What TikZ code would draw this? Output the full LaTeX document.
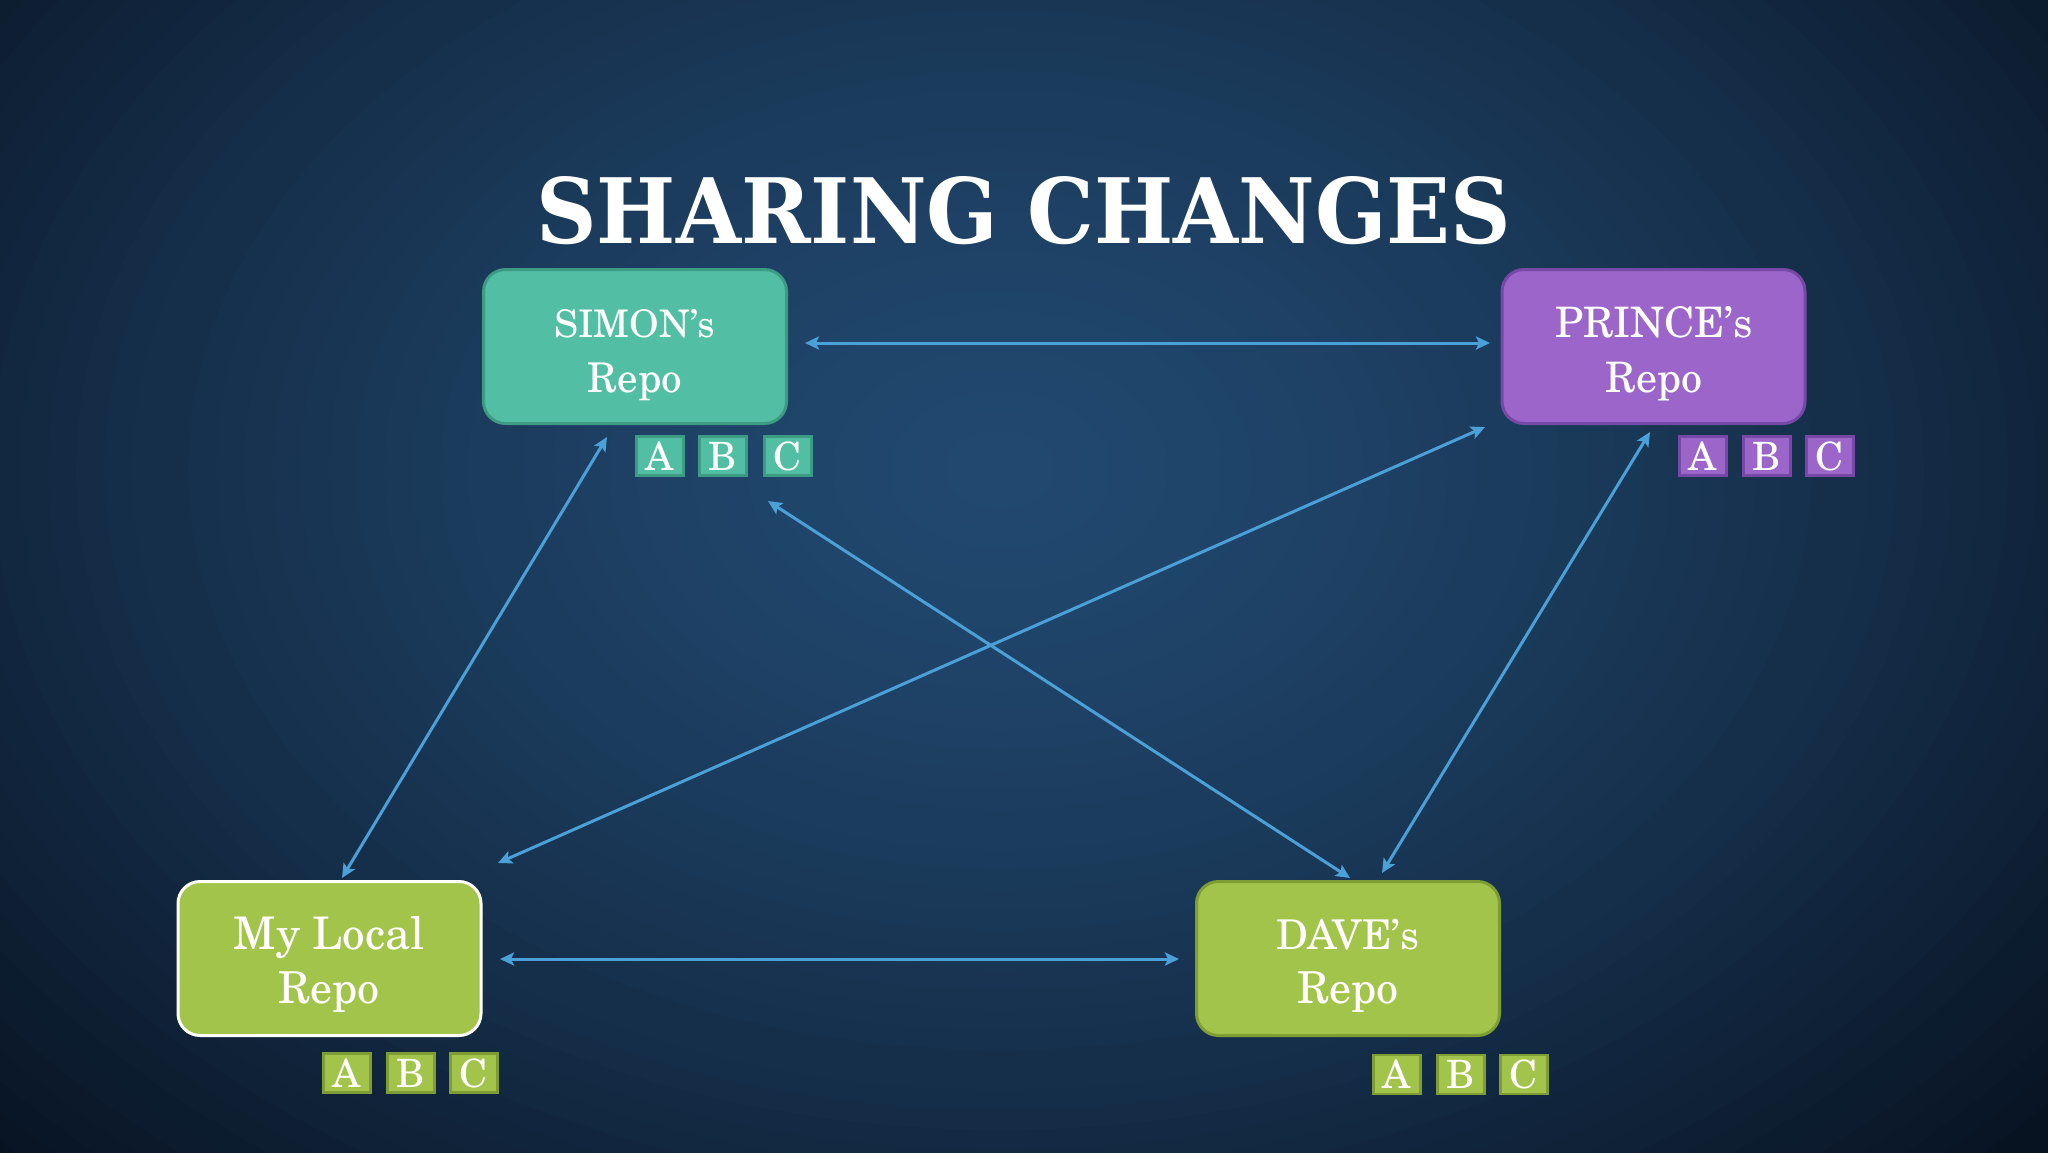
\documentclass[tikz,border=0pt]{standalone}
\usepackage{fontspec}
\usepackage{graphicx}
\setmainfont{TeX Gyre Schola}
\newfontfamily\titlefont{DejaVu Serif}
\usetikzlibrary{arrows.meta}
\definecolor{bgC}{HTML}{21486F}
\definecolor{bgE}{HTML}{081322}
\definecolor{arrowc}{HTML}{4BA0D8}
\definecolor{tealF}{HTML}{52BFA4}
\definecolor{tealB}{HTML}{3D9A83}
\definecolor{purpF}{HTML}{9B65C9}
\definecolor{purpB}{HTML}{7649A6}
\definecolor{grnF}{HTML}{A2C44A}
\definecolor{grnB}{HTML}{7E9E35}
\tikzset{
  repobox/.style={rounded corners=22pt, line width=3pt, minimum width=303pt, minimum height=154pt, inner sep=0pt},
  letterbox/.style={line width=2.5pt, minimum width=47pt, minimum height=39pt, inner sep=0pt, text height=28pt, text depth=0pt, text=white, font=\fontsize{39}{39}\selectfont},
  lbl/.style={text=white, inner sep=0pt, anchor=base},
  conn/.style={draw=arrowc, line width=3pt, {Stealth[length=14pt,width=13pt,inset=3pt]}-{Stealth[length=14pt,width=13pt,inset=3pt]}}
}
\begin{document}
\begin{tikzpicture}[x=1pt,y=-1pt]
\useasboundingbox (0,0) rectangle (2048,1152);
\begin{scope}
\clip (0,0) rectangle (2048,1152);
\fill[bgE] (0,0) rectangle (2048,1152);
\foreach \i in {0,...,51} {
  \pgfmathsetmacro\rr{1.04-\i*0.02}
  \pgfmathsetmacro\pp{max(0,100*(1-\rr^1.5))}
  \fill[bgC!\pp!bgE] (1000,470) ellipse [x radius=1400*\rr, y radius=1000*\rr];
}
\end{scope}
% title
\node[anchor=base west, inner sep=0pt, text=white] (title) at (536,243) {\resizebox{975pt}{67pt}{\titlefont\bfseries SHARING CHANGES}};
% repo boxes
\node[repobox, fill=tealF, draw=tealB] (simon) at (635,346.5) {};
\node[repobox, fill=purpF, draw=purpB] (prince) at (1653.5,346.5) {};
\node[repobox, fill=grnF, draw=white] (local) at (329.5,958.5) {};
\node[repobox, fill=grnF, draw=grnB] (dave) at (1348,958.5) {};
% box texts
\node[lbl, font=\fontsize{38}{48}\selectfont] (simonT1) at (635,337) {SIMON's};
\node[lbl, font=\fontsize{41}{48}\selectfont] (simonT2) at (635,392) {Repo};
\node[lbl, font=\fontsize{42}{48}\selectfont] (princeT1) at (1654,337) {PRINCE's};
\node[lbl, font=\fontsize{42}{48}\selectfont] (princeT2) at (1654,392) {Repo};
\node[lbl, font=\fontsize{45}{48}\selectfont] (localT1) at (329,949) {My Local};
\node[lbl, font=\fontsize{44}{48}\selectfont] (localT2) at (329,1003) {Repo};
\node[lbl, font=\fontsize{41}{48}\selectfont] (daveT1) at (1348,949) {DAVE's};
\node[lbl, font=\fontsize{44}{48}\selectfont] (daveT2) at (1348,1003) {Repo};
% letter boxes
\node[letterbox, fill=tealF, draw=tealB] (sA) at (660,456) {A};
\node[letterbox, fill=tealF, draw=tealB] (sB) at (723,456) {B};
\node[letterbox, fill=tealF, draw=tealB] (sC) at (788,456) {C};
\node[letterbox, fill=purpF, draw=purpB] (pA) at (1703,456) {A};
\node[letterbox, fill=purpF, draw=purpB] (pB) at (1767,456) {B};
\node[letterbox, fill=purpF, draw=purpB] (pC) at (1830,456) {C};
\node[letterbox, fill=grnF, draw=grnB] (lA) at (347,1073) {A};
\node[letterbox, fill=grnF, draw=grnB] (lB) at (411,1073) {B};
\node[letterbox, fill=grnF, draw=grnB] (lC) at (474,1073) {C};
\node[letterbox, fill=grnF, draw=grnB] (dA) at (1397,1074.5) {A};
\node[letterbox, fill=grnF, draw=grnB] (dB) at (1461,1074.5) {B};
\node[letterbox, fill=grnF, draw=grnB] (dC) at (1524,1074.5) {C};
% connector ends
\coordinate (s1) at (805,343);
\coordinate (p1) at (1490,343);
\coordinate (s2) at (607,437);
\coordinate (l1) at (342,878);
\coordinate (s3) at (768,501);
\coordinate (d1) at (1350,878);
\coordinate (p2) at (1485,427);
\coordinate (l2) at (498,863);
\coordinate (p3) at (1650,432);
\coordinate (d2) at (1382,873);
\coordinate (l3) at (500,959);
\coordinate (d3) at (1179,959);
% connectors
\draw[conn] (s1) -- (p1);
\draw[conn] (s2) -- (l1);
\draw[conn] (s3) -- (d1);
\draw[conn] (p2) -- (l2);
\draw[conn] (p3) -- (d2);
\draw[conn] (l3) -- (d3);
\end{tikzpicture}
\end{document}
